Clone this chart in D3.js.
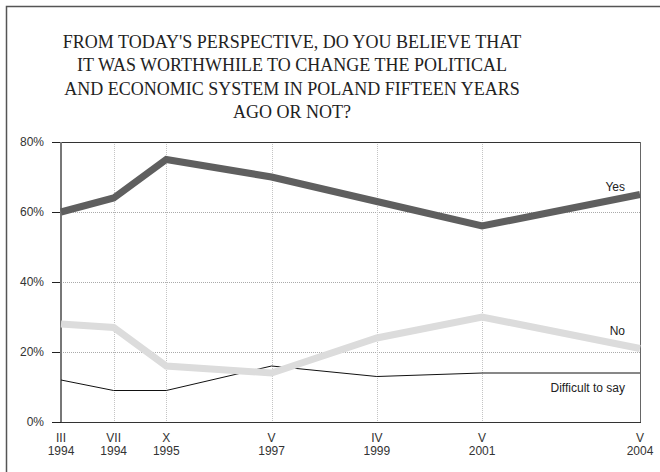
<!DOCTYPE html>
<html>
<head>
<meta charset="utf-8">
<script src="https://cdn.jsdelivr.net/npm/d3@7"></script>
<style>
  body { margin: 0; background: #fff; }
</style>
</head>
<body>
<div id="chart"></div>
<script>
const months = ["III", "VII", "X", "V", "IV", "V", "V"];
const years = ["1994", "1994", "1995", "1997", "1999", "2001", "2004"];
const yes = [60, 64, 75, 70, 63, 56, 65];
const no = [28, 27, 16, 14, 24, 30, 21];
const difficult = [12, 9, 9, 16, 13, 14, 14];
const yTicks = [0, 20, 40, 60, 80];
const titleLines = [
  "FROM TODAY'S PERSPECTIVE, DO YOU BELIEVE THAT",
  "IT WAS WORTHWHILE TO CHANGE THE POLITICAL",
  "AND ECONOMIC SYSTEM IN POLAND FIFTEEN YEARS",
  "AGO OR NOT?"
];

const W = 660, H = 472;
const pLeft = 61, pRight = 640, pTop = 142, pBottom = 422;

// uneven spacing of the surveys along the axis
const slot = [0, 1, 2, 4, 6, 8, 11];

const svg = d3.select("#chart")
  .append("svg")
    .attr("width", W)
    .attr("height", H)
    .style("font-family", "'Liberation Sans', Arial, sans-serif");

// outer frame
svg.append("rect")
  .attr("x", 6.5).attr("y", 6.5)
  .attr("width", W).attr("height", H)
  .attr("fill", "none")
  .attr("stroke", "#555")
  .attr("stroke-width", 1.5);

svg.append("g")
  .selectAll("text")
  .data(titleLines)
  .join("text")
    .attr("x", 292)
    .attr("y", (d, i) => 48 + i * 23.3)
    .attr("text-anchor", "middle")
    .style("font-family", "'Liberation Serif', 'Times New Roman', serif")
    .style("font-size", "18px")
    .style("fill", "#222")
    .text(d => d);

const x = d3.scaleLinear().domain([0, 11]).range([pLeft, pRight]);
const xi = i => x(slot[i]);
const y = d3.scaleLinear().domain([0, 80]).range([pBottom, pTop]);

// horizontal grid
svg.append("g")
  .selectAll("line")
  .data([20, 40, 60])
  .join("line")
    .attr("x1", pLeft).attr("x2", pRight)
    .attr("y1", d => y(d) + 0.5).attr("y2", d => y(d) + 0.5)
    .attr("stroke", "#aaa")
    .attr("stroke-dasharray", "1,1");

// vertical grid
svg.append("g")
  .selectAll("line")
  .data(d3.range(1, months.length - 1))
  .join("line")
    .attr("x1", d => Math.round(xi(d)) + 0.5).attr("x2", d => Math.round(xi(d)) + 0.5)
    .attr("y1", pTop).attr("y2", pBottom)
    .attr("stroke", "#c4c4c4")
    .attr("stroke-dasharray", "1,1");

// plot frame
svg.append("line")
  .attr("x1", pLeft).attr("x2", pRight)
  .attr("y1", pTop + 0.5).attr("y2", pTop + 0.5)
  .attr("stroke", "#333");
svg.append("line")
  .attr("x1", pRight + 0.5).attr("x2", pRight + 0.5)
  .attr("y1", pTop).attr("y2", pBottom)
  .attr("stroke", "#666");

// y axis
const yAxis = svg.append("g")
  .attr("transform", "translate(" + pLeft + ",0)")
  .call(d3.axisLeft(y).tickValues(yTicks).tickFormat(d => d + "%").tickSize(9).tickPadding(8));
yAxis.select(".domain").remove();
yAxis.selectAll(".tick line").attr("stroke", "#222");
yAxis.selectAll("text")
  .style("font-size", "12px")
  .style("font-family", "'Liberation Sans', Arial, sans-serif")
  .style("fill", "#333");

svg.append("line")
  .attr("x1", pLeft).attr("x2", pRight + 1)
  .attr("y1", pBottom + 0.5).attr("y2", pBottom + 0.5)
  .attr("stroke", "#333");

svg.append("line")
  .attr("x1", pLeft).attr("x2", pLeft)
  .attr("y1", pTop).attr("y2", pBottom)
  .attr("stroke", "#777")
  .attr("stroke-width", 2);

// x labels
const xl = svg.append("g")
  .selectAll("g")
  .data(months.map((m, i) => ({m: m, yr: years[i], i: i})))
  .join("g")
    .attr("transform", d => "translate(" + xi(d.i) + ",0)");
xl.append("text")
  .attr("y", 441.5)
  .attr("text-anchor", "middle")
  .style("font-size", "12px")
  .style("fill", "#333")
  .text(d => d.m);
xl.append("text")
  .attr("y", 454.5)
  .attr("text-anchor", "middle")
  .style("font-size", "12px")
  .style("fill", "#333")
  .text(d => d.yr);

const line = d3.line()
  .x((d, i) => xi(i))
  .y(d => y(d));

svg.append("path")
  .datum(difficult)
  .attr("fill", "none")
  .attr("stroke", "#111")
  .attr("stroke-width", 1)
  .attr("d", line);

svg.append("path")
  .datum(no)
  .attr("fill", "none")
  .attr("stroke", "#dcdcdc")
  .attr("stroke-width", 7)
  .attr("d", line);

svg.append("path")
  .datum(yes)
  .attr("fill", "none")
  .attr("stroke", "#5f5f5f")
  .attr("stroke-width", 7)
  .attr("d", line);

const labels = [
  {text: "Yes", v: yes[6], dy: -3.5},
  {text: "No", v: no[6], dy: -14},
  {text: "Difficult to say", v: difficult[6], dy: 18.5}
];
svg.append("g")
  .selectAll("text")
  .data(labels)
  .join("text")
    .attr("x", 625)
    .attr("y", d => y(d.v) + d.dy)
    .attr("text-anchor", "end")
    .style("font-size", "12px")
    .style("fill", "#222")
    .text(d => d.text);
</script>
</body>
</html>
